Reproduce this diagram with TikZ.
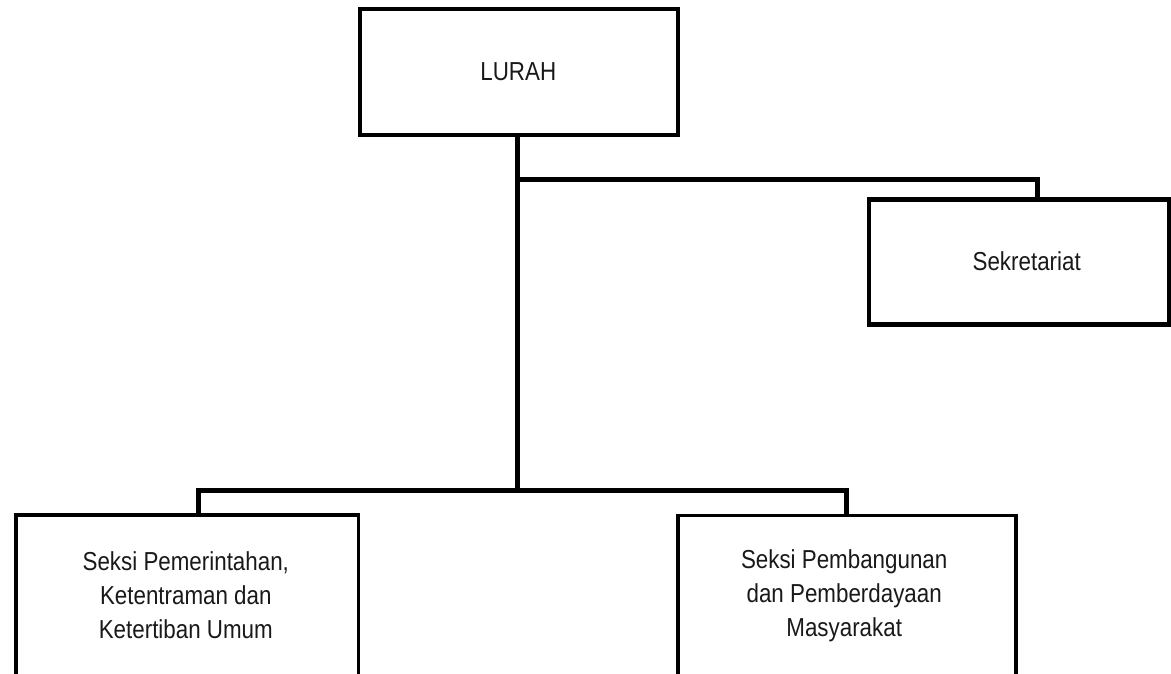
\documentclass[tikz,border=0pt]{standalone}
\usepackage{fontspec}
\setmainfont{Liberation Sans}[FakeStretch=0.86]
\begin{document}
\begin{tikzpicture}[x=1pt,y=-1pt,
  unit/.style={draw=black, rectangle, inner sep=0pt, fill=white},
  caption/.style={align=center, inner sep=0pt, font=\fontsize{26}{34}\selectfont, text=black!90},
  link/.style={draw=black, line width=5pt}]
\useasboundingbox (0,0) rectangle (1171,673);
\clip (0,0) rectangle (1171,673);

% boxes
\node[unit, line width=4pt, minimum width=318pt, minimum height=126pt] (lurah) at (518.5,72) {};
\node[caption] (lurahT) at (518.3,72) {LURAH};

\node[unit, line width=4.6pt, minimum width=300pt, minimum height=125pt] (sek) at (1019,262) {};
\node[caption] (sekT) at (1026.7,261) {Sekretariat};

\node[unit, line width=3.6pt, minimum width=342.6pt, minimum height=205pt] (pemL) at (187,617.5) {};
\node[caption] (pemLT) at (185.8,595) {Seksi Pemerintahan,\\Ketentraman dan\\Ketertiban Umum};

\node[unit, line width=3.6pt, minimum width=338pt, minimum height=205pt] (pemR) at (847,618) {};
\node[caption] (pemRT) at (844.2,596) {Seksi Pembangunan\\dan Pemberdayaan\\Masyarakat};

% junctions on the trunk
\coordinate (j1) at (517.5,179);
\coordinate (bus) at (517.5,490.5);

% connectors
\draw[link] (lurah.south -| j1) -- (bus);
\draw[link] (j1) -| ([xshift=18.5pt]sek.north);
\draw[link] ([xshift=11.8pt]pemL.north) |- (bus) -| ([xshift=-1pt]pemR.north);
\end{tikzpicture}
\end{document}
